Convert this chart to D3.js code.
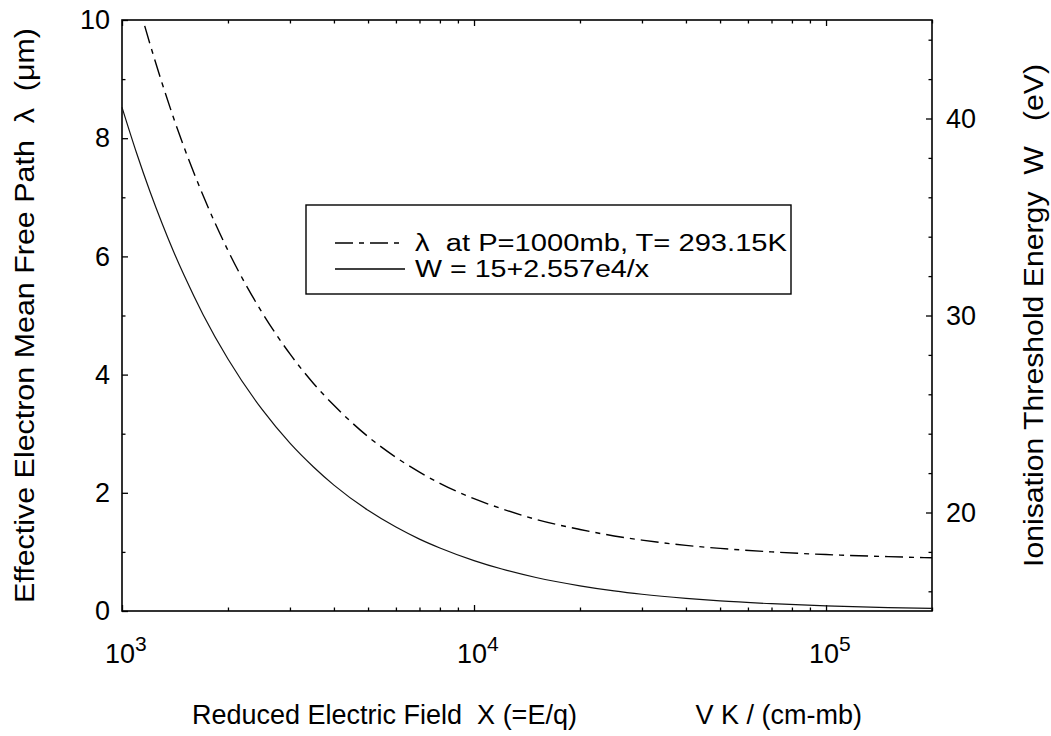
<!DOCTYPE html>
<html>
<head>
<meta charset="utf-8">
<script src="https://cdn.jsdelivr.net/npm/d3@7"></script>
<style>
  body { margin: 0; background: #fff; }
  svg text { font-family: "Liberation Sans", Arial, sans-serif; fill: #000; }
</style>
</head>
<body>
<script>
// values
var lambdaX = [1160, 1200, 1300, 1400, 1500, 1700, 2000, 2500, 3000, 3500, 4000, 5000, 6000, 7000, 8000,
               10000, 12000, 15000, 20000, 25000, 30000, 40000, 50000, 70000, 100000, 150000, 200000];
var lambdaY = [9.90, 9.60, 8.93, 8.35, 7.85, 7.03, 6.10, 5.05, 4.35, 3.85, 3.48, 2.95, 2.60, 2.35, 2.16,
               1.90, 1.73, 1.55, 1.38, 1.27, 1.20, 1.11, 1.06, 1.00, 0.955, 0.92, 0.90];

var wX = [1000, 1100, 1200, 1300, 1400, 1500, 1700, 2000, 2500, 3000, 3500, 4000, 5000, 6000, 7000, 8000,
          10000, 12000, 15000, 20000, 25000, 30000, 40000, 50000, 70000, 100000, 150000, 200000];
var wY = [40.57, 38.25, 36.31, 34.67, 33.26, 32.05, 30.04, 27.79, 25.23, 23.52, 22.31, 21.39, 20.11, 19.26, 18.65, 18.20,
          17.56, 17.13, 16.70, 16.28, 16.02, 15.85, 15.64, 15.51, 15.37, 15.26, 15.17, 15.13];

var xMajor = [1e3, 1e4, 1e5];
var xExp = ["3", "4", "5"];
var leftTicks = [0, 2, 4, 6, 8, 10];
var rightTicks = [20, 30, 40];

var legendLabels = ["\u03bb  at P=1000mb, T= 293.15K", "W = 15+2.557e4/x"];

var width = 1051, height = 736;
var mLeft = 122, mRight = 932, mTop = 20, mBottom = 611;
var dashDot = "18,6,5,6";

var svg = d3.select("body").append("svg")
  .attr("width", width)
  .attr("height", height);

var x = d3.scaleLog().domain([1e3, 2e5]).range([mLeft, mRight]);
var yL = d3.scaleLinear().domain([0, 10]).range([mBottom, mTop]);
var yR = d3.scaleLinear().domain([15, 45]).range([mBottom, mTop]);

// minor log ticks 2..9 per decade
var xMinor = [];
[1e3, 1e4, 1e5].forEach(function(d){
  for (var k = 2; k <= 9; k++) { if (d * k <= 2e5) xMinor.push(d * k); }
});

function clean(g){
  g.select(".domain").remove();
  g.selectAll(".tick line").attr("stroke", "#000").attr("stroke-width", 1.3);
}

// bottom & top ticks (inward)
svg.append("g").attr("transform", "translate(0," + mBottom + ")")
  .call(d3.axisBottom(x).tickValues(xMajor).tickSize(-6).tickFormat(""))
  .call(clean);
svg.append("g").attr("transform", "translate(0," + mBottom + ")")
  .call(d3.axisBottom(x).tickValues(xMinor).tickSize(-3.5).tickFormat(""))
  .call(clean);
svg.append("g").attr("transform", "translate(0," + mTop + ")")
  .call(d3.axisTop(x).tickValues(xMajor).tickSize(-6).tickFormat(""))
  .call(clean);
svg.append("g").attr("transform", "translate(0," + mTop + ")")
  .call(d3.axisTop(x).tickValues(xMinor).tickSize(-3.5).tickFormat(""))
  .call(clean);

// left axis
svg.append("g").attr("transform", "translate(" + mLeft + ",0)")
  .call(d3.axisLeft(yL).tickValues(leftTicks).tickSize(-6).tickPadding(12).tickFormat(d3.format("d")))
  .call(clean)
  .selectAll("text").attr("font-size", 27).attr("font-family", "Liberation Sans, Arial, sans-serif");
svg.append("g").attr("transform", "translate(" + mLeft + ",0)")
  .call(d3.axisLeft(yL).tickValues(d3.range(1, 10, 2)).tickSize(-3.5).tickFormat(""))
  .call(clean);

// right axis
svg.append("g").attr("transform", "translate(" + mRight + ",0)")
  .call(d3.axisRight(yR).tickValues(rightTicks).tickSize(-6).tickPadding(14).tickFormat(d3.format("d")))
  .call(clean)
  .selectAll("text").attr("font-size", 27).attr("font-family", "Liberation Sans, Arial, sans-serif");
svg.append("g").attr("transform", "translate(" + mRight + ",0)")
  .call(d3.axisRight(yR).tickValues([16, 18, 22, 24, 26, 28, 32, 34, 36, 38, 42, 44]).tickSize(-3.5).tickFormat(""))
  .call(clean);

// x tick labels with superscripts
var xl = svg.append("g").selectAll("text")
  .data(xMajor)
  .enter().append("text")
  .attr("x", function(d){ return x(d) - 17; })
  .attr("y", 663)
  .attr("font-size", 27);
xl.append("tspan").text("10");
xl.append("tspan")
  .attr("font-size", 21)
  .attr("dy", -12)
  .text(function(d, i){ return xExp[i]; });

// frame
svg.append("rect")
  .attr("x", mLeft).attr("y", mTop)
  .attr("width", mRight - mLeft).attr("height", mBottom - mTop)
  .attr("fill", "none").attr("stroke", "#000").attr("stroke-width", 1.6);

// curves
var lamLine = d3.line()
  .x(function(d){ return x(d[0]); })
  .y(function(d){ return yL(d[1]); })
  .curve(d3.curveMonotoneX);
var wLine = d3.line()
  .x(function(d){ return x(d[0]); })
  .y(function(d){ return yR(d[1]); })
  .curve(d3.curveMonotoneX);

svg.append("path")
  .attr("d", lamLine(d3.zip(lambdaX, lambdaY)))
  .attr("fill", "none").attr("stroke", "#000").attr("stroke-width", 1.4)
  .attr("stroke-dasharray", dashDot);
svg.append("path")
  .attr("d", wLine(d3.zip(wX, wY)))
  .attr("fill", "none").attr("stroke", "#111").attr("stroke-width", 1.2);

// legend
var lg = svg.append("g");
lg.append("rect")
  .attr("x", 306).attr("y", 205).attr("width", 485).attr("height", 89)
  .attr("fill", "#fff").attr("stroke", "#000").attr("stroke-width", 1.4);
var rows = [243, 269];
lg.selectAll("line")
  .data(rows)
  .enter().append("line")
  .attr("x1", 335).attr("x2", 405)
  .attr("y1", function(d){ return d; }).attr("y2", function(d){ return d; })
  .attr("stroke", "#000").attr("stroke-width", 1.3)
  .attr("stroke-dasharray", function(d, i){ return i === 0 ? dashDot : null; });
lg.selectAll("text")
  .data(legendLabels)
  .enter().append("text")
  .attr("x", 415)
  .attr("y", function(d, i){ return rows[i]; })
  .attr("dy", "0.35em")
  .attr("font-size", 23)
  .attr("xml:space", "preserve")
  .attr("textLength", function(d, i){ return i === 0 ? 372 : 234; })
  .attr("lengthAdjust", "spacingAndGlyphs")
  .text(function(d){ return d; });

// axis titles
svg.append("text")
  .attr("transform", "translate(34," + ((mTop + mBottom) / 2) + ") rotate(-90)")
  .attr("text-anchor", "middle")
  .attr("font-size", 27)
  .attr("xml:space", "preserve")
  .attr("textLength", 575)
  .attr("lengthAdjust", "spacingAndGlyphs")
  .text("Effective Electron Mean Free Path  \u03bb  (\u03bcm)");

svg.append("text")
  .attr("transform", "translate(1043," + ((mTop + mBottom) / 2) + ") rotate(-90)")
  .attr("text-anchor", "middle")
  .attr("font-size", 27)
  .attr("xml:space", "preserve")
  .attr("textLength", 503)
  .attr("lengthAdjust", "spacingAndGlyphs")
  .text("Ionisation Threshold Energy  W   (eV)");

svg.append("text")
  .attr("x", 192).attr("y", 724)
  .attr("font-size", 27)
  .attr("xml:space", "preserve")
  .text("Reduced Electric Field  X (=E/q)");
svg.append("text")
  .attr("x", 862).attr("y", 724)
  .attr("text-anchor", "end")
  .attr("font-size", 27)
  .attr("xml:space", "preserve")
  .text("V K / (cm-mb)");
</script>
</body>
</html>
